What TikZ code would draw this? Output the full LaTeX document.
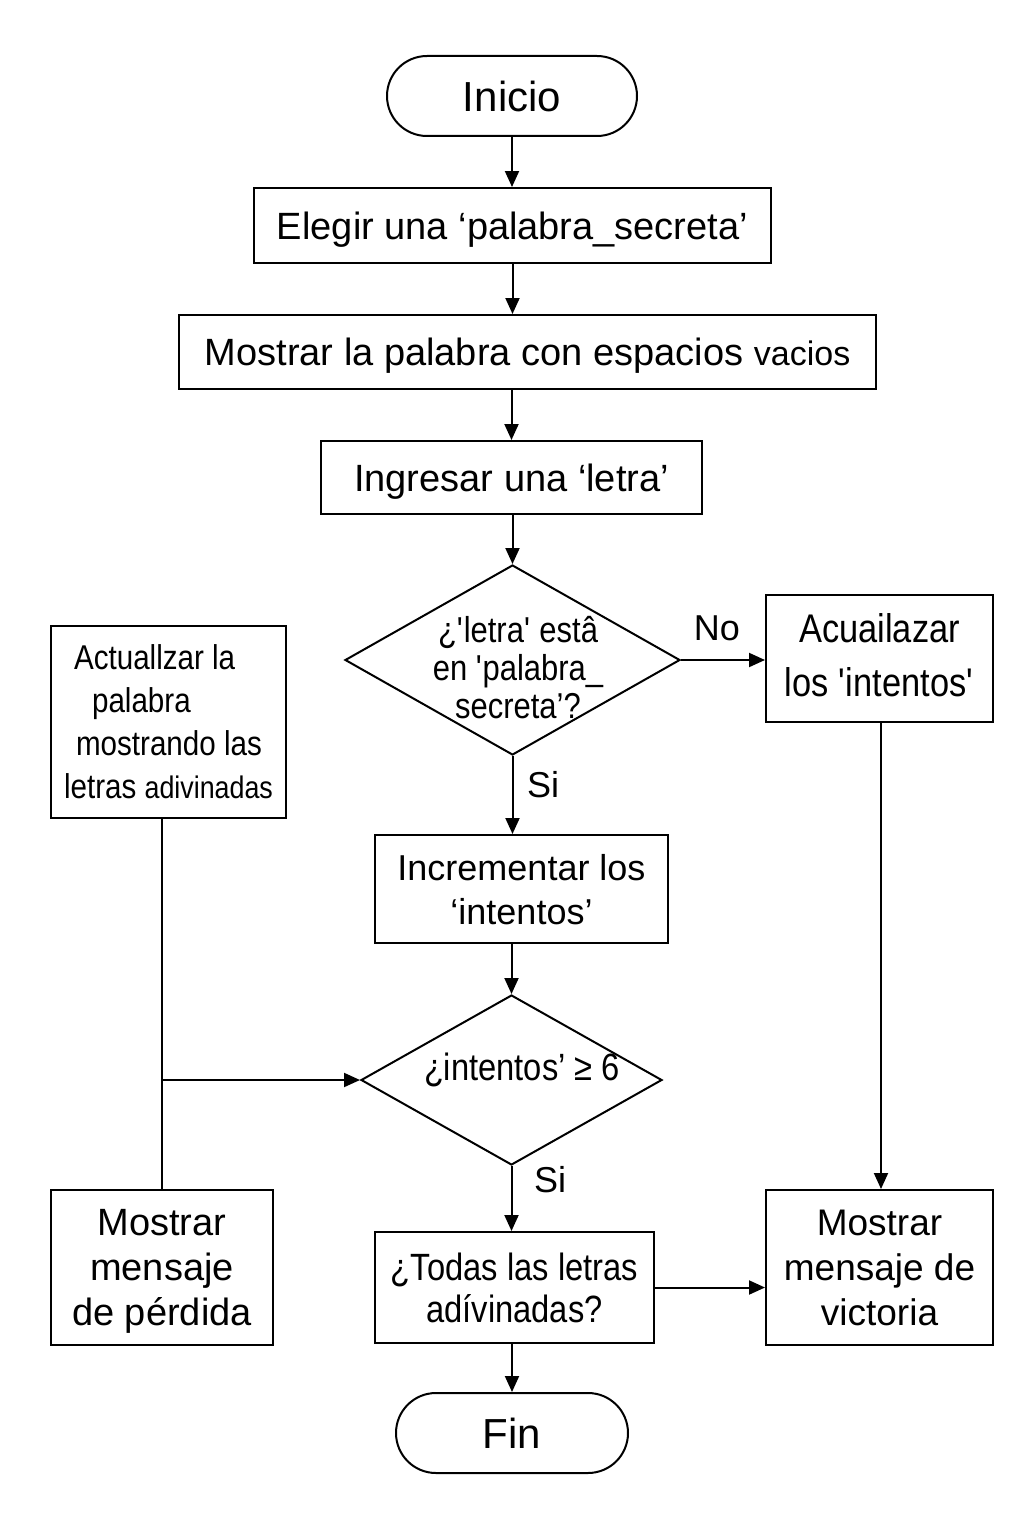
\documentclass[tikz,border=0pt]{standalone}
\usepackage{fontspec}
\setmainfont{Liberation Sans}
\newfontfamily\narrowfont[FakeStretch=0.86]{Liberation Sans}
\usetikzlibrary{arrows.meta,shapes.geometric}
\tikzset{
  box/.style={draw, line width=1pt, rectangle, inner sep=0pt, align=center, text depth=0pt},
  term/.style={draw, line width=1pt, rectangle, rounded corners=20pt, inner sep=0pt, font=\fontsize{21}{25}\selectfont},
  dia/.style={draw, line width=1pt, diamond, inner sep=0pt},
  con/.style={line width=1pt},
  arr/.style={line width=1pt, -{Triangle[length=8pt,width=7pt]}},
  lbl/.style={inner sep=0pt, font=\fontsize{18}{20}\selectfont}
}
\begin{document}
\begin{tikzpicture}[x=0.5pt,y=-0.5pt]
\useasboundingbox (0,0) rectangle (1024,1536);
\fill[white] (0,0) rectangle (1024,1536);
% nodes
\node[term, minimum width=125pt, minimum height=40pt] (inicio) at (512,96) {Inicio};
\node[box, minimum width=258.5pt, minimum height=37.5pt, font=\fontsize{19}{22}\selectfont] (elegir) at (512.5,225.5) {Elegir una ‘palabra\_secreta’};
\node[box, minimum width=348.5pt, minimum height=37pt, font=\fontsize{19}{22}\selectfont] (mostrar) at (527.5,352) {Mostrar la palabra con espacios {\fontsize{17}{20}\selectfont vacios}};
\node[box, minimum width=190.5pt, minimum height=36.5pt, font=\fontsize{19}{22}\selectfont] (ingresar) at (511.5,477.5) {Ingresar una ‘letra’};
\node[dia, minimum width=167.5pt, minimum height=95pt] (d1) at (512.5,660) {};
\node[inner sep=0pt, align=center, font=\narrowfont\fontsize{18}{19}\selectfont] (d1t) at (518,668) {¿\textquotesingle letra\textquotesingle{} estâ\\en \textquotesingle palabra\_\\secreta’?};
\node[box, minimum width=113.5pt, minimum height=63.5pt, font=\narrowfont\fontsize{20}{27}\selectfont] (acu) at (879.5,658.5) {\raisebox{3pt}{Acuailazar}\\\raisebox{3pt}{los \textquotesingle intentos\textquotesingle}};
\node[box, minimum width=117.5pt, minimum height=96pt, align=left, font=\narrowfont\fontsize{17.2}{21.5}\selectfont] (act) at (168.5,722) {\hspace*{5pt}Actuallzar la\\\hspace*{14pt}palabra\\\hspace*{6pt}mostrando las\\letras {\fontsize{15.6}{21.5}\selectfont adivinadas}};
\node[box, minimum width=146.5pt, minimum height=54pt, font=\fontsize{18}{22}\selectfont] (inc) at (521.5,889) {Incrementar los\\‘intentos’};
\node[dia, minimum width=150.5pt, minimum height=85pt] (d2) at (511.5,1080) {};
\node[inner sep=0pt, font=\narrowfont\fontsize{19}{20}\selectfont] (d2t) at (522,1070) {¿intentos’ ≥ 6};
\node[box, minimum width=111pt, minimum height=77.5pt, font=\fontsize{19}{22.5}\selectfont] (perd) at (162,1267.5) {Mostrar\\mensaje\\de pérdida};
\node[box, minimum width=139.5pt, minimum height=55.5pt, font=\narrowfont\fontsize{19}{21}\selectfont] (todas) at (514.5,1287.5) {¿Todas las letras\\adívinadas?};
\node[box, minimum width=113.5pt, minimum height=77.5pt, font=\fontsize{18.5}{22.5}\selectfont] (vic) at (879.5,1267.5) {Mostrar\\mensaje de\\victoria};
\node[term, minimum width=116pt, minimum height=40pt] (fin) at (512,1433) {Fin};
% labels
\node[lbl] (no) at (717,628) {No};
\node[lbl] (si1) at (543,785) {Si};
\node[lbl] (si2) at (550,1180) {Si};
% connectors
\draw[arr] (inicio) -- (inicio |- elegir.north);
\draw[arr] (elegir) -- (elegir |- mostrar.north);
\draw[arr] (ingresar |- mostrar.south) -- (ingresar);
\draw[arr] (d1.north |- ingresar.south) -- (d1.north);
\draw[arr] (d1.east) -- (acu.west |- d1.east);
\draw[arr] (d1.south) -- (d1.south |- inc.north);
\draw[arr] (d2 |- inc.south) -- (d2.north);
\draw[arr] (d2.south) -- (d2.south |- todas.north);
\draw[arr] (fin |- todas.south) -- (fin.north);
\draw[arr] (todas.east) -- (vic.west |- todas.east);
\draw[arr] (acu.south -| 881,0) -- (vic.north -| 881,0);
\coordinate (br) at (perd.north |- d2.west);
\draw[con] (perd.north |- act.south) -- (perd.north);
\draw[arr] (br) -- (d2.west);
\end{tikzpicture}
\end{document}
